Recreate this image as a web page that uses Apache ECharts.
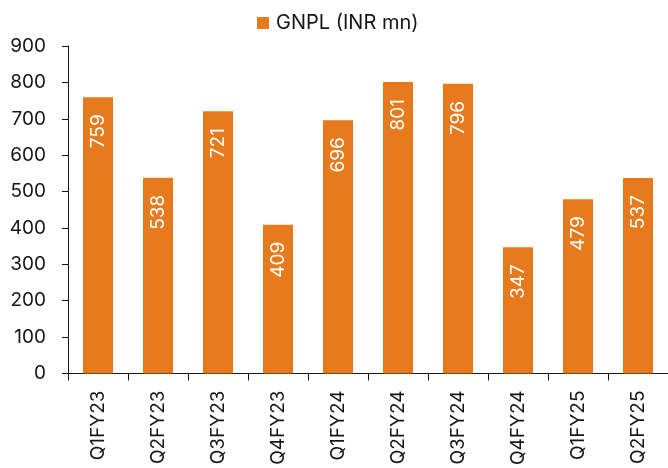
<!DOCTYPE html>
<html>
<head>
<meta charset="utf-8">
<script src="https://cdn.jsdelivr.net/npm/echarts@6/dist/echarts.min.js"></script>
<style>
  html, body { margin: 0; padding: 0; background: #fff; }
  #chart { width: 668px; height: 468px; }
</style>
</head>
<body>
<div id="chart"></div>
<script>
// Quarterly gross non-performing loans
const quarters = ['Q1FY23', 'Q2FY23', 'Q3FY23', 'Q4FY23', 'Q1FY24', 'Q2FY24', 'Q3FY24', 'Q4FY24', 'Q1FY25', 'Q2FY25'];
const gnpl = [759, 538, 721, 409, 696, 801, 796, 347, 479, 537];
const seriesName = 'GNPL (INR mn)';

const FONT = 'Inter, sans-serif';
const ORANGE = '#E67A1C';
const INK = '#161616';

const chart = echarts.init(document.getElementById('chart'), null, { renderer: 'canvas' });
chart.setOption({
  animation: false,
  textStyle: { fontFamily: FONT },
  legend: {
    data: [seriesName],
    left: 252,
    top: 8,
    icon: 'rect',
    itemWidth: 12,
    itemHeight: 12,
    textStyle: { fontSize: 20, color: INK, fontFamily: FONT, padding: [0, 0, 0, 2] }
  },
  grid: { left: 68, right: 0, top: 46, bottom: 94 },
  xAxis: {
    type: 'category',
    data: quarters,
    axisLine: { lineStyle: { color: INK, width: 1 } },
    axisTick: { show: true, length: 7, lineStyle: { color: INK } },
    axisLabel: { rotate: 90, fontSize: 19, color: INK, margin: 17, fontFamily: FONT }
  },
  yAxis: {
    type: 'value',
    min: 0,
    max: 900,
    interval: 100,
    splitLine: { show: false },
    axisLine: { show: true, lineStyle: { color: INK, width: 1 } },
    axisTick: { show: true, length: 6, inside: false, lineStyle: { color: INK } },
    axisLabel: { fontSize: 19, color: INK, margin: 22, fontFamily: FONT }
  },
  series: [{
    name: seriesName,
    type: 'bar',
    data: gnpl,
    barWidth: '50%',
    itemStyle: { color: ORANGE },
    label: {
      show: true,
      position: 'insideTop',
      rotate: 90,
      align: 'right',
      verticalAlign: 'middle',
      distance: 17,
      color: '#fff',
      fontSize: 19,
      fontFamily: FONT
    }
  }]
});
</script>
</body>
</html>
